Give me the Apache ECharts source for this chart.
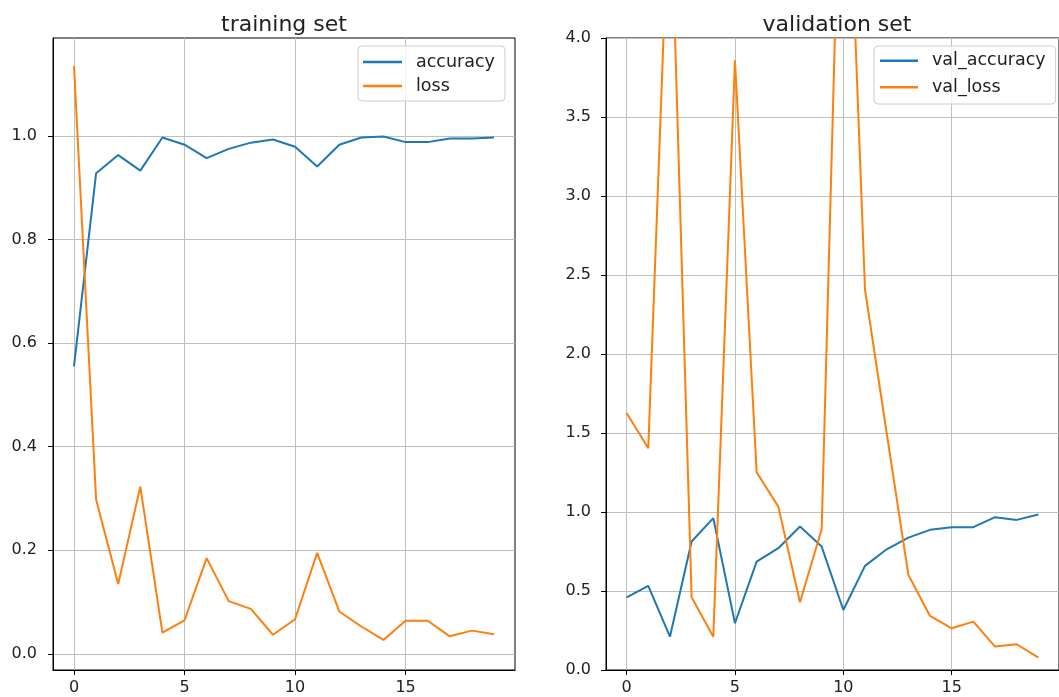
<!DOCTYPE html>
<html>
<head>
<meta charset="utf-8">
<script src="https://cdn.jsdelivr.net/npm/echarts@6/dist/echarts.min.js"></script>
<style>
html,body{margin:0;padding:0;background:#fff;}
#c{width:1059px;height:697px;}
</style>
</head>
<body>
<div id="c"></div>
<script>
const epochs = [0,1,2,3,4,5,6,7,8,9,10,11,12,13,14,15,16,17,18,19];
const accuracy = [0.555,0.928,0.963,0.933,0.997,0.983,0.957,0.975,0.987,0.993,0.979,0.941,0.983,0.997,0.999,0.988,0.988,0.995,0.995,0.997];
const loss = [1.135,0.298,0.135,0.323,0.041,0.065,0.185,0.102,0.087,0.037,0.067,0.195,0.082,0.053,0.027,0.064,0.064,0.034,0.045,0.038];
const valAccuracy = [0.46,0.532,0.211,0.813,0.961,0.296,0.686,0.771,0.908,0.781,0.38,0.659,0.764,0.838,0.887,0.904,0.904,0.967,0.95,0.984];
const valLoss = [1.626,1.404,5.1,0.46,0.211,3.859,1.252,1.034,0.429,0.891,6.0,2.407,1.5,0.602,0.342,0.264,0.306,0.148,0.163,0.078];
const xTicks = [0,5,10,15];
const leftYTicks = [0.0,0.2,0.4,0.6,0.8,1.0];
const titles = ['training set','validation set'];

const FONT = 'DejaVu Sans';
const BLUE = '#1f77b4', ORANGE = '#ff7f0e';
const GRIDC = '#bfbfbf';
const pairs = arr => epochs.map((e,i)=>[e,arr[i]]);
const lineIcon = 'path://M0,0L40,0L40,2.5L0,2.5Z';

function xAxis(gi){
  return {
    type:'value', gridIndex:gi, min:-0.95, max:19.95,
    axisLine:{show:true,onZero:false,lineStyle:{color:'#000',width:1}},
    axisTick:{show:true,length:5,customValues:xTicks,lineStyle:{color:'#000'}},
    axisLabel:{customValues:xTicks,margin:10,fontFamily:FONT,fontSize:16,color:'#222'},
    splitLine:{show:true,lineStyle:{color:GRIDC,width:1}}
  };
}
function legend(names,left,gap,pad,iw){
  return {data:names,orient:'vertical',left:left,top:46,
    icon:lineIcon,itemWidth:iw,itemHeight:14,itemGap:gap,
    padding:pad,backgroundColor:'rgba(255,255,255,0.8)',borderColor:'#cccccc',borderWidth:1,borderRadius:4,
    textStyle:{fontFamily:FONT,fontSize:17.5,color:'#222',padding:[0,0,0,9]}};
}
const option = {
  animation:false,
  backgroundColor:'#fff',
  graphic:[
    {type:'text',x:284,y:25,style:{text:titles[0],fontFamily:FONT,fontSize:22,fill:'#222',textAlign:'center',textVerticalAlign:'middle'}},
    {type:'text',x:837,y:25,style:{text:titles[1],fontFamily:FONT,fontSize:22,fill:'#222',textAlign:'center',textVerticalAlign:'middle'}}
  ],
  grid:[
    {left:53,width:462,top:38,bottom:27,show:true,borderColor:'#000',borderWidth:1,backgroundColor:'#fff'},
    {left:606,width:462,top:38,bottom:27,show:true,borderColor:'#000',borderWidth:1,backgroundColor:'#fff'}
  ],
  xAxis:[xAxis(0),xAxis(1)],
  yAxis:[
    {type:'value',gridIndex:0,min:-0.031,max:1.189,
     axisLine:{show:true,onZero:false,lineStyle:{color:'#000'}},
     axisTick:{show:true,length:5,customValues:leftYTicks,lineStyle:{color:'#000'}},
     axisLabel:{customValues:leftYTicks,margin:16,fontFamily:FONT,fontSize:16,color:'#222',formatter:v=>v.toFixed(1)},
     splitLine:{show:true,lineStyle:{color:GRIDC,width:1}}},
    {type:'value',gridIndex:1,min:0,max:4,interval:0.5,
     axisLine:{show:true,onZero:false,lineStyle:{color:'#000'}},
     axisTick:{show:true,length:5,lineStyle:{color:'#000'}},
     axisLabel:{margin:15,fontFamily:FONT,fontSize:16,color:'#222',formatter:v=>v.toFixed(1),showMinLabel:true,showMaxLabel:true},
     splitLine:{show:true,lineStyle:{color:GRIDC,width:1}}}
  ],
  legend:[
    legend(['accuracy','loss'],358,6,[7,10,6,5],39),
    legend(['val_accuracy','val_loss'],874,8.6,[5.7,10,7.7,6],38)
  ],
  series:[
    {name:'accuracy',type:'line',xAxisIndex:0,yAxisIndex:0,data:pairs(accuracy),showSymbol:false,color:BLUE,lineStyle:{width:2},clip:true},
    {name:'loss',type:'line',xAxisIndex:0,yAxisIndex:0,data:pairs(loss),showSymbol:false,color:ORANGE,lineStyle:{width:2},clip:true},
    {name:'val_accuracy',type:'line',xAxisIndex:1,yAxisIndex:1,data:pairs(valAccuracy),showSymbol:false,color:BLUE,lineStyle:{width:2},clip:true},
    {name:'val_loss',type:'line',xAxisIndex:1,yAxisIndex:1,data:pairs(valLoss),showSymbol:false,color:ORANGE,lineStyle:{width:2},clip:true}
  ]
};
const chart = echarts.init(document.getElementById('c'),null,{renderer:'canvas'});
chart.setOption(option);
</script>
</body>
</html>
